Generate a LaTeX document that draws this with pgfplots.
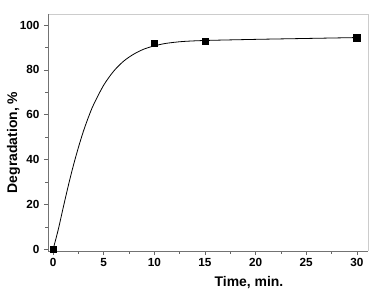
\documentclass[border=0pt]{standalone}
\usepackage{pgfplots}
\pgfplotsset{compat=1.18}
\usepackage{fontspec}
\setmainfont{Liberation Sans}
\begin{document}
\begin{tikzpicture}
\begin{axis}[
  scale only axis,
  width=320bp, height=237bp,
  xmin=-0.5, xmax=31.1,
  ymin=-0.7, ymax=104.9,
  xtick={0,5,...,30}, ytick={0,20,...,100},
  minor x tick num=1, minor y tick num=1,
  tick align=outside,
  major tick length=4bp, minor tick length=2.5bp,
  xtick pos=bottom, ytick pos=left,
  tick style={color=black!60, line width=0.7pt},
  axis line style={draw=none},
  ticklabel style={font=\bfseries\fontsize{11.8}{13}\selectfont},
  yticklabel style={xshift=-1bp},
  /pgf/number format/assume math mode=true,
  xlabel={\bfseries\fontsize{14}{16}\selectfont Time, min.},
  ylabel={\bfseries\fontsize{14}{16}\selectfont Degradation, \%},
  xlabel style={yshift=-3bp, xshift=41bp},
  ylabel style={yshift=-7bp, xshift=-10bp},
  clip=false,
]
\draw[black!20, line width=0.7pt] (rel axis cs:0,1) -- (rel axis cs:1,1) -- (rel axis cs:1,0);
\draw[black!55, line width=0.8pt] (rel axis cs:0,1) -- (rel axis cs:0,0) -- (rel axis cs:1,0);
\addplot[black, line width=0.8pt, smooth] coordinates {
(0,0) (0.5,8.6) (1,18.6) (1.5,28.3) (2,37.3) (2.5,45.4) (3,52.7) (3.5,59.0)
(4,64.5) (5,73.2) (6,79.5) (7,84.0) (8,87.1) (9,89.3) (10,90.7) (11,91.7)
(12,92.3) (13,92.7) (15,93.1) (20,93.6) (25,94.0) (30,94.4)};
\addplot[only marks, mark=square*, mark size=3.2bp, black] coordinates {
(0,0) (10,92) (15,92.8) (30,94.3)};
\end{axis}
\pgfresetboundingbox
\path ([shift={(-48bp,-45bp)}]current axis.south west) rectangle ([shift={(12bp,14bp)}]current axis.north east);
\end{tikzpicture}
\end{document}
